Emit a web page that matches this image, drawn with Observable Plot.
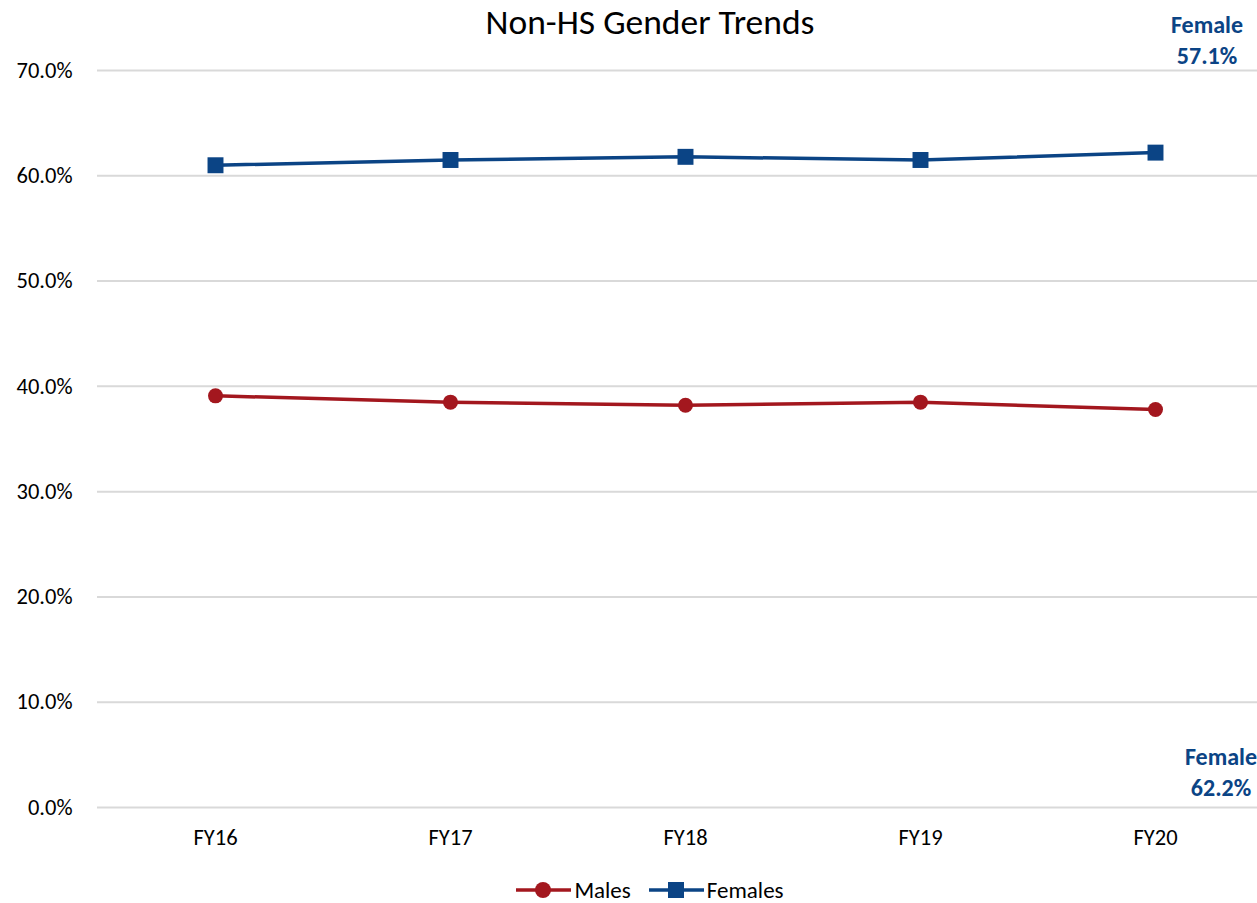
<!DOCTYPE html>
<html><head><meta charset="utf-8">
<script src="https://cdn.jsdelivr.net/npm/d3@7"></script>
<script src="https://cdn.jsdelivr.net/npm/@observablehq/plot@0.6"></script>
<style>
body{margin:0;background:#fff;font-family:Carlito,"Open Sans",sans-serif;}
#wrap{position:relative;width:1257px;height:903px;overflow:hidden;}
#title{position:absolute;top:0;left:0;width:1257px;box-sizing:border-box;padding-left:43px;text-align:center;font-size:35.5px;line-height:normal;color:#000;}
.ann{position:absolute;font-weight:bold;color:#0b4485;font-size:24px;line-height:31px;text-align:center;width:120px;}
#legend{position:absolute;top:878px;left:0;width:1257px;box-sizing:border-box;padding-left:43px;display:flex;justify-content:center;gap:18px;font-size:23px;line-height:24px;color:#000;}
#legend span{display:flex;align-items:center;gap:3px;}
#chart svg{position:absolute;top:0;left:0;}
#chart svg text{font-size:22.5px;fill:#000;}
</style></head>
<body><div id="wrap">
<div id="chart"></div>
<div id="title">Non-HS Gender Trends</div>
<div class="ann" style="top:9px;left:1147px;">Female<br>57.1%</div>
<div class="ann" style="top:741px;left:1161px;">Female<br>62.2%</div>
<div id="legend"></div>
</div>
<script>
const years = ["FY16","FY17","FY18","FY19","FY20"];
const males = [39.1, 38.5, 38.2, 38.5, 37.8];
const females = [61.0, 61.5, 61.8, 61.5, 62.2];
const yTicks = [0,10,20,30,40,50,60,70];
const seriesNames = ["Males","Females"];
const seriesColors = ["#a3171e","#0b4485"];

const maleData = years.map((y,i)=>({year:y, value:males[i]}));
const femaleData = years.map((y,i)=>({year:y, value:females[i]}));

const chart = Plot.plot({
  width:1257, height:870,
  marginLeft:97, marginRight:0, marginTop:70, marginBottom:63,
  x:{type:"point", domain:years, range:[214,1155], padding:0, label:null},
  y:{domain:[0,70], label:null},
  style:{fontFamily:'Carlito,"Open Sans",sans-serif', color:"#000"},
  marks:[
    Plot.ruleY(yTicks,{stroke:"#d9d9d9", strokeWidth:2}),
    Plot.axisY(yTicks,{tickSize:0, tickPadding:25, tickFormat:d=>d.toFixed(1)+"%", label:null}),
    Plot.axisX({tickSize:0, tickPadding:22, label:null}),
    Plot.line(maleData,{x:"year", y:"value", stroke:seriesColors[0], strokeWidth:3.5}),
    Plot.dot(maleData,{x:"year", y:"value", fill:seriesColors[0], r:7.5, symbol:"circle"}),
    Plot.line(femaleData,{x:"year", y:"value", stroke:seriesColors[1], strokeWidth:3.5}),
    Plot.dot(femaleData,{x:"year", y:"value", fill:seriesColors[1], r:9, symbol:"square"})
  ]
});
document.getElementById("chart").appendChild(chart);

const legend = document.getElementById("legend");
seriesNames.forEach((n,i)=>{
  const s = document.createElement("span");
  const marker = i===0
    ? `<circle cx="27" cy="10" r="8" fill="${seriesColors[i]}"/>`
    : `<rect x="19" y="2" width="16" height="16" fill="${seriesColors[i]}"/>`;
  s.innerHTML = `<svg width="55" height="20"><line x1="0" x2="55" y1="10" y2="10" stroke="${seriesColors[i]}" stroke-width="3.5"/>${marker}</svg>${n}`;
  legend.appendChild(s);
});
</script>
</body></html>
